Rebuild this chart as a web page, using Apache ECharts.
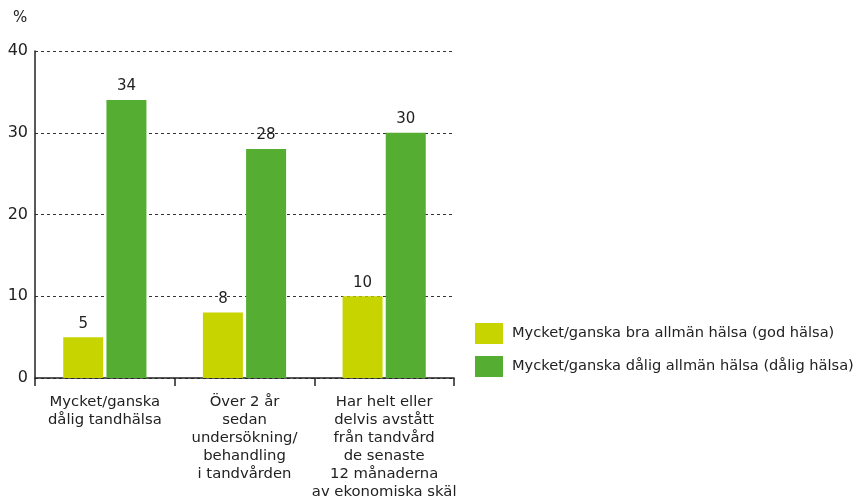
<!DOCTYPE html>
<html>
<head>
<meta charset="utf-8">
<script src="https://cdn.jsdelivr.net/npm/echarts@6/dist/echarts.min.js"></script>
<style>
  html, body { margin: 0; padding: 0; background: #fff; }
  #chart { width: 858px; height: 501px; }
</style>
</head>
<body>
<div id="chart"></div>
<script>
// Categories along the x axis
const categories = [
  'Mycket/ganska\ndålig tandhälsa',
  'Över 2 år\nsedan\nundersökning/\nbehandling\ni tandvården',
  'Har helt eller\ndelvis avstått\nfrån tandvård\nde senaste\n12 månaderna\nav ekonomiska skäl'
];
// Series names
const seriesNames = [
  'Mycket/ganska bra allmän hälsa (god hälsa)',
  'Mycket/ganska dålig allmän hälsa (dålig hälsa)'
];
// Values in percent
const goodHealth = [5, 8, 10];
const poorHealth = [34, 28, 30];
// Y axis ticks
const yTicks = [0, 10, 20, 30, 40];

const FONT = '"DejaVu Sans", sans-serif';
const TEXT = '#222';
const colors = ['#c8d400', '#55ae32'];

const chart = echarts.init(document.getElementById('chart'), null, { renderer: 'canvas' });

chart.setOption({
  animation: false,
  textStyle: { fontFamily: FONT, color: TEXT },
  grid: { left: 35, right: 404, top: 51, bottom: 122, containLabel: false },
  graphic: [{
    type: 'text', left: 13, top: 11,
    style: { text: '%', font: '15px ' + FONT, fill: TEXT }
  }],
  legend: {
    orient: 'vertical',
    left: 470, top: 318,
    itemWidth: 28, itemHeight: 21, itemGap: 12,
    icon: 'rect',
    textStyle: { fontFamily: FONT, fontSize: 14.6, color: TEXT, padding: [0, 0, 0, 4] },
    data: seriesNames
  },
  xAxis: {
    type: 'category',
    data: categories,
    axisLine: { show: true, lineStyle: { color: TEXT, width: 1.5 } },
    axisTick: { show: true, length: 8, lineStyle: { color: TEXT, width: 1.5 } },
    axisLabel: {
      interval: 0, margin: 15,
      fontFamily: FONT, fontSize: 14.8, lineHeight: 18, color: TEXT, align: 'center'
    },
    splitLine: { show: false }
  },
  yAxis: {
    type: 'value',
    min: yTicks[0], max: yTicks[yTicks.length - 1], interval: 10,
    axisLine: { show: true, lineStyle: { color: TEXT, width: 1.5 } },
    axisTick: { show: false },
    axisLabel: { margin: 7, fontFamily: FONT, fontSize: 16, color: TEXT },
    splitLine: { show: true, lineStyle: { color: '#333', type: [3, 3], width: 1 } }
  },
  series: [
    {
      name: seriesNames[0], type: 'bar', data: goodHealth,
      itemStyle: { color: colors[0] },
      barWidth: 40, barGap: '8%',
      label: { show: true, position: 'top', distance: 6, fontFamily: FONT, fontSize: 15, color: TEXT }
    },
    {
      name: seriesNames[1], type: 'bar', data: poorHealth,
      itemStyle: { color: colors[1] },
      barWidth: 40, barGap: '8%',
      label: { show: true, position: 'top', distance: 6, fontFamily: FONT, fontSize: 15, color: TEXT }
    }
  ]
});
</script>
</body>
</html>
